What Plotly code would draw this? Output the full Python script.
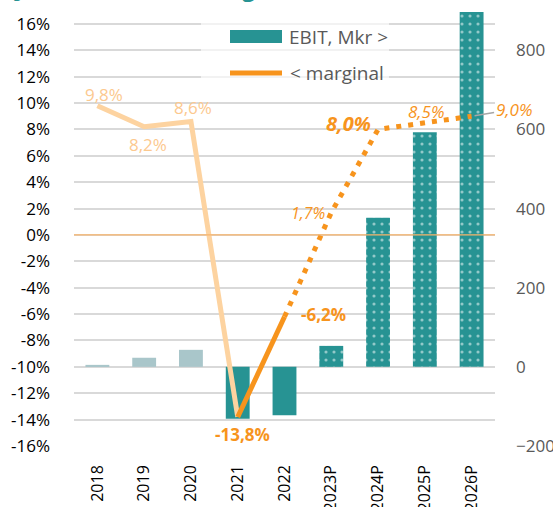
import plotly.graph_objects as go

# ---- data ----
categories = ["2018", "2019", "2020", "2021", "2022", "2023P", "2024P", "2025P", "2026P"]
ebit_mkr = [5, 23, 43, -131, -122, 53, 377, 593, 900]
margin_pct = [9.8, 8.2, 8.6, -13.8, -6.2, 1.7, 8.0, 8.5, 9.0]
pct_ticks = list(range(-16, 17, 2))
pct_ticktext = [f"{v}%" for v in pct_ticks]
mkr_ticks = [-200, 0, 200, 400, 600, 800]
title_text = "Justerad EBIT & marginal"
legend_bar = "EBIT, Mkr >"
legend_line = "< marginal"

# ---- styling ----
TEAL = "#279393"
LIGHT = "#a9c6ca"
ORANGE = "#f7941d"
PEACH = "#fdd3a0"
PEACH_TXT = "#fcc98f"
GRID = "#d9d9d9"
FONT = "Open Sans"

W, H = 553, 507
L, R, T, B = 74, 58, 12, 61
PW, PH = W - L - R, H - T - B


def px(x):
    return (x - L) / PW


def py(y):
    return (H - B - y) / PH


pct_range = [-16, 16.9]
mkr_range = [-200, -200 + (pct_range[1] - pct_range[0]) * 200 / 6]

fig = go.Figure()
# bars: historic light, actual solid, forecast dotted
fig.add_trace(go.Bar(x=categories[:3], y=ebit_mkr[:3], yaxis="y",
                     marker=dict(color=LIGHT, line=dict(width=0)),
                     showlegend=False, hoverinfo="skip"))
fig.add_trace(go.Bar(x=categories[3:5], y=ebit_mkr[3:5], yaxis="y",
                     marker=dict(color=TEAL, line=dict(width=0)),
                     showlegend=False, hoverinfo="skip"))
fig.add_trace(go.Bar(x=categories[5:], y=ebit_mkr[5:], yaxis="y",
                     marker=dict(color=TEAL, line=dict(width=0),
                                 pattern=dict(shape=".", fgcolor="white", bgcolor=TEAL,
                                              size=8, solidity=0.12)),
                     showlegend=False, hoverinfo="skip"))
# margin line
fig.add_trace(go.Scatter(x=categories[:4], y=margin_pct[:4], yaxis="y2", mode="lines",
                         line=dict(color=PEACH, width=5), showlegend=False))
fig.add_trace(go.Scatter(x=categories[3:5], y=margin_pct[3:5], yaxis="y2", mode="lines",
                         line=dict(color=ORANGE, width=5), showlegend=False))
fig.add_trace(go.Scatter(x=categories[4:], y=margin_pct[4:], yaxis="y2", mode="lines",
                         line=dict(color=ORANGE, width=5, dash="5px,7px"), showlegend=False))

# data labels
label_styles = [
    dict(xshift=7, yshift=11, font=dict(color=PEACH_TXT, size=17)),
    dict(xshift=4, yshift=-18, font=dict(color=PEACH_TXT, size=17)),
    dict(xshift=2, yshift=14, font=dict(color=PEACH_TXT, size=17)),
    dict(xshift=5, yshift=-18, font=dict(color=ORANGE, size=17, weight="bold")),
    dict(xshift=39, yshift=2, font=dict(color=ORANGE, size=17, weight="bold")),
    dict(xshift=-23, yshift=0, font=dict(color=ORANGE, size=16, style="italic")),
    dict(xshift=-30, yshift=6, font=dict(color=ORANGE, size=20, weight="bold", style="italic")),
    dict(xshift=1, yshift=11, font=dict(color=ORANGE, size=17, style="italic")),
]
annotations = []
for i, (val, st) in enumerate(zip(margin_pct, label_styles)):
    f = dict(family=FONT)
    f.update(st["font"])
    annotations.append(dict(
        x=i, y=val, xref="x", yref="y2",
        text=f"{val:.1f}".replace(".", ",") + "%",
        showarrow=False, xshift=st["xshift"], yshift=st["yshift"], font=f,
    ))
# last label with leader line
annotations.append(dict(
    x=len(categories) - 1, y=margin_pct[-1], xref="x", yref="y2",
    text=f"{margin_pct[-1]:.1f}".replace(".", ",") + "%",
    showarrow=True, arrowhead=0, arrowwidth=1.5, arrowcolor="#a6a6a6",
    ax=42, ay=-7, standoff=3,
    font=dict(family=FONT, size=17, color=ORANGE, style="italic"),
))

# title (partly cut off at the top)
annotations.append(dict(
    x=px(12), y=py(5), xref="paper", yref="paper", xanchor="left", yanchor="bottom",
    text=title_text, showarrow=False,
    font=dict(family=FONT, size=24, color=TEAL, weight="bold", style="italic"),
))

# legend texts
annotations.append(dict(x=px(287), y=py(37), xref="paper", yref="paper",
                        xanchor="left", yanchor="middle", text=legend_bar, showarrow=False,
                        font=dict(family=FONT, size=19, color="#595959")))
annotations.append(dict(x=px(288), y=py(73), xref="paper", yref="paper",
                        xanchor="left", yanchor="middle", text=legend_line, showarrow=False,
                        font=dict(family=FONT, size=19, color="#595959")))

shapes = [
    # 0 % reference line drawn over the bars
    dict(type="line", xref="paper", yref="y2", x0=0, x1=1, y0=0, y1=0,
         line=dict(color="#f9b46a", width=1.2), layer="above"),
    dict(type="rect", xref="paper", yref="paper", x0=px(201), x1=px(389), y0=py(92), y1=py(18),
         fillcolor="rgba(255,255,255,0.65)", line=dict(width=0), layer="above"),
    dict(type="rect", xref="paper", yref="paper", x0=px(230), x1=px(282), y0=py(43), y1=py(30),
         fillcolor=TEAL, line=dict(width=0), layer="above"),
    dict(type="line", xref="paper", yref="paper", x0=px(230), x1=px(282), y0=py(73), y1=py(73),
         line=dict(color=ORANGE, width=5), layer="above"),
]

fig.update_layout(
    width=W, height=H,
    margin=dict(l=L, r=R, t=T, b=B, autoexpand=False),
    paper_bgcolor="white", plot_bgcolor="white",
    font=dict(family=FONT, color="#000000"),
    barmode="overlay",
    bargap=0.49,
    showlegend=False,
    xaxis=dict(type="category", categoryorder="array", categoryarray=categories,
               range=[-0.5, len(categories) - 0.5], automargin=False,
               tickangle=-90, tickfont=dict(size=16, color="#000000"),
               showgrid=False, zeroline=False, showline=False, ticks="",
               ticklabelstandoff=15),
    yaxis=dict(side="right", range=mkr_range, tickvals=mkr_ticks, automargin=False,
               showgrid=False, zeroline=False, showline=False, ticks="",
               tickfont=dict(size=17, color="#595959"), ticklabelstandoff=20),
    yaxis2=dict(overlaying="y", side="left", range=pct_range, automargin=False,
                tickvals=pct_ticks, ticktext=pct_ticktext,
                showgrid=True, gridcolor=GRID, gridwidth=1.5,
                zeroline=False, showline=False, ticks="",
                tickfont=dict(size=17, color="#000000"), ticklabelstandoff=23),
    annotations=annotations,
    shapes=shapes,
)

fig.write_html("out.html",
               config={"displayModeBar": False},
               post_script="document.body.style.margin='0';document.body.style.overflow='hidden';")
